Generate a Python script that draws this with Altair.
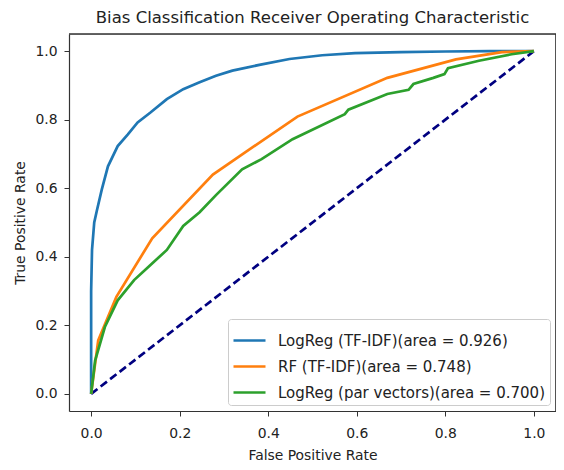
import altair as alt
import pandas as pd

series_names = [
    "LogReg (TF-IDF)(area = 0.926)",
    "RF (TF-IDF)(area = 0.748)",
    "LogReg (par vectors)(area = 0.700)",
]
series_colors = ["#1f77b4", "#ff7f0e", "#2ca02c"]

logreg_tfidf_fpr = [0.0, 0.0, 0.002, 0.007, 0.013, 0.024, 0.038, 0.060, 0.083, 0.105, 0.134,
                    0.171, 0.208, 0.245, 0.282, 0.319, 0.380, 0.448, 0.522, 0.596, 0.70, 0.80, 0.90, 1.0]
logreg_tfidf_tpr = [0.0, 0.30, 0.42, 0.50, 0.535, 0.596, 0.664, 0.723, 0.757, 0.792, 0.821,
                    0.860, 0.889, 0.909, 0.928, 0.943, 0.960, 0.977, 0.988, 0.994, 0.997, 0.999, 1.0, 1.0]

rf_tfidf_fpr = [0.0, 0.016, 0.057, 0.138, 0.275, 0.466, 0.669, 0.824, 0.928, 1.0]
rf_tfidf_tpr = [0.0, 0.156, 0.283, 0.454, 0.640, 0.809, 0.922, 0.976, 0.997, 1.0]

logreg_pv_fpr = [0.0, 0.009, 0.031, 0.060, 0.097, 0.134, 0.171, 0.208, 0.245, 0.282, 0.341,
                 0.385, 0.455, 0.573, 0.581, 0.669, 0.717, 0.728, 0.773, 0.798, 0.806, 0.876, 0.950, 1.0]
logreg_pv_tpr = [0.0, 0.097, 0.195, 0.273, 0.332, 0.376, 0.420, 0.490, 0.530, 0.580, 0.655,
                 0.685, 0.743, 0.816, 0.829, 0.875, 0.887, 0.904, 0.922, 0.933, 0.950, 0.972, 0.991, 1.0]

chance_x = [0.0, 1.0]
chance_y = [0.0, 1.0]

x_ticks = [0.0, 0.2, 0.4, 0.6, 0.8, 1.0]
y_ticks = [0.0, 0.2, 0.4, 0.6, 0.8, 1.0]

rows = []
for name, xs, ys in zip(series_names,
                        [logreg_tfidf_fpr, rf_tfidf_fpr, logreg_pv_fpr],
                        [logreg_tfidf_tpr, rf_tfidf_tpr, logreg_pv_tpr]):
    for i, (a, b) in enumerate(zip(xs, ys)):
        rows.append({"series": name, "fpr": a, "tpr": b, "idx": i})
df = pd.DataFrame(rows)
chance = pd.DataFrame({"fpr": chance_x, "tpr": chance_y})

FONT = "DejaVu Sans"
FRAME = "#333333"
W, H = 487, 377
xscale = alt.Scale(domain=[-0.05, 1.05], nice=False, zero=False)
yscale = alt.Scale(domain=[-0.05, 1.05], nice=False, zero=False)

xaxis = alt.Axis(values=x_ticks, format=".1f", title="False Positive Rate", grid=False,
                 domain=True, domainColor=FRAME, domainWidth=1.2,
                 tickSize=5, tickColor=FRAME, labelPadding=10,
                 labelFontSize=13.9, titleFontSize=13.9, labelFont=FONT, titleFont=FONT,
                 labelColor="#222", titleColor="#222", titleFontWeight="normal", titlePadding=9)
yaxis = alt.Axis(values=y_ticks, format=".1f", title="True Positive Rate", grid=False,
                 domain=True, domainColor=FRAME, domainWidth=1.2,
                 tickSize=5, tickColor=FRAME, labelPadding=7,
                 labelFontSize=13.9, titleFontSize=13.9, labelFont=FONT, titleFont=FONT,
                 labelColor="#222", titleColor="#222", titleFontWeight="normal", titlePadding=7)

curves = alt.Chart(df).mark_line(strokeWidth=2.7, clip=True).encode(
    x=alt.X("fpr:Q", scale=xscale, axis=xaxis),
    y=alt.Y("tpr:Q", scale=yscale, axis=yaxis),
    color=alt.Color("series:N", sort=series_names,
                    scale=alt.Scale(domain=series_names, range=series_colors),
                    legend=alt.Legend(title=None, orient="bottom-right", offset=6,
                                      symbolType="stroke", symbolSize=1024,
                                      symbolStrokeWidth=2.7, labelFontSize=15,
                                      labelFont=FONT, labelColor="#222", labelOffset=11,
                                      fillColor="rgba(255,255,255,0.85)", strokeColor="#cccccc",
                                      cornerRadius=3, padding=4, rowPadding=-8,
                                      labelLimit=400)),
    order="idx:Q",
)

diag = alt.Chart(chance).mark_line(color="navy", strokeWidth=2.7, strokeDash=[8, 4]).encode(
    x=alt.X("fpr:Q", scale=xscale),
    y=alt.Y("tpr:Q", scale=yscale),
)

top_edge = alt.Chart(chance).mark_rule(color=FRAME, strokeWidth=1.2).encode(
    y=alt.value(0)
)
right_edge = alt.Chart(chance).mark_rule(color=FRAME, strokeWidth=1.2).encode(
    x=alt.value(W)
)

chart = alt.layer(diag, curves, top_edge, right_edge).properties(
    width=W,
    height=H,
    title=alt.TitleParams("Bias Classification Receiver Operating Characteristic",
                          font=FONT, fontSize=16.5, fontWeight="normal", color="#222",
                          anchor="middle", offset=7),
    autosize=alt.AutoSizeParams(type="none"),
    padding={"left": 61, "top": 26, "right": 0, "bottom": 58},
).configure_view(stroke=None).configure(background="white")

chart.save("out.html", embed_options={"renderer": "svg", "actions": False})
